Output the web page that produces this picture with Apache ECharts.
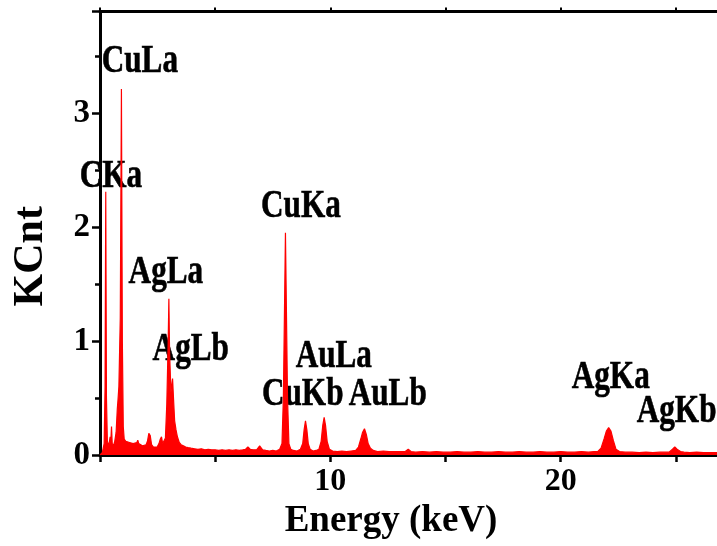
<!DOCTYPE html>
<html>
<head>
<meta charset="utf-8">
<script src="https://cdn.jsdelivr.net/npm/echarts@6/dist/echarts.min.js"></script>
<style>
html,body{margin:0;padding:0;background:#fff;}
#chart{width:717px;height:546px;}
</style>
</head>
<body>
<div id="chart"></div>
<script>
// Energy (keV) of each sample
var energy = [
  0.00,0.10,0.18,0.22,0.25,0.28,0.32,0.38,0.44,0.47,0.50,0.53,0.58,0.64,0.70,0.75,0.78,0.82,0.88,0.93,
  0.97,1.01,1.05,1.12,1.20,1.28,1.36,1.44,1.52,1.60,1.64,1.68,1.76,1.84,1.92,2.00,2.06,2.12,2.18,2.24,
  2.32,2.40,2.48,2.56,2.62,2.67,2.72,2.78,2.84,2.90,2.96,2.99,3.02,3.08,3.12,3.15,3.19,3.24,3.30,3.36,
  3.44,3.52,3.62,3.72,3.82,3.95,4.10,4.25,4.40,4.55,4.70,4.85,5.00,5.15,5.30,5.45,5.60,5.75,5.90,6.05,
  6.20,6.32,6.42,6.52,6.64,6.80,6.93,7.06,7.20,7.35,7.50,7.65,7.80,7.90,7.96,8.01,8.05,8.09,8.14,8.20,
  8.28,8.40,8.55,8.70,8.80,8.86,8.92,8.98,9.04,9.12,9.25,9.38,9.50,9.60,9.67,9.73,9.79,9.86,9.96,10.10,
  10.30,10.50,10.70,10.90,11.10,11.22,11.32,11.40,11.48,11.56,11.64,11.74,11.86,12.05,12.30,12.55,12.80,13.05,13.25,13.38,
  13.50,13.70,14.00,14.30,14.60,14.90,15.20,15.50,15.80,16.10,16.40,16.70,17.00,17.30,17.60,17.90,18.20,18.50,18.80,19.10,
  19.40,19.70,20.00,20.30,20.60,20.90,21.20,21.45,21.60,21.75,21.88,21.98,22.08,22.18,22.28,22.40,22.55,22.80,23.10,23.40,
  23.70,24.00,24.30,24.55,24.70,24.85,24.95,25.05,25.20,25.35,25.60,25.90,26.20,26.50,26.80,27.00
];
// Counts in KCnt
var counts = [
  0.00,0.02,0.10,0.60,2.31,0.50,0.12,0.08,0.16,0.12,0.25,0.10,0.08,0.12,0.20,0.40,0.48,0.60,1.20,3.21,
  1.00,0.25,0.14,0.12,0.13,0.11,0.12,0.10,0.09,0.11,0.13,0.10,0.09,0.08,0.07,0.09,0.12,0.19,0.17,0.09,
  0.07,0.06,0.07,0.10,0.14,0.16,0.10,0.09,0.15,0.45,1.00,1.37,0.90,0.55,0.62,0.67,0.50,0.30,0.22,0.16,
  0.11,0.09,0.08,0.07,0.065,0.06,0.055,0.05,0.055,0.045,0.05,0.045,0.045,0.04,0.045,0.04,0.045,0.04,0.045,0.04,
  0.045,0.05,0.07,0.05,0.045,0.045,0.08,0.045,0.04,0.035,0.04,0.035,0.05,0.10,0.50,1.30,1.95,1.30,0.50,0.10,
  0.05,0.04,0.035,0.05,0.10,0.22,0.30,0.22,0.10,0.05,0.035,0.04,0.05,0.12,0.26,0.33,0.26,0.12,0.05,0.035,
  0.03,0.035,0.03,0.035,0.04,0.07,0.14,0.20,0.23,0.18,0.10,0.06,0.04,0.03,0.035,0.03,0.03,0.03,0.03,0.05,
  0.03,0.025,0.03,0.025,0.03,0.025,0.025,0.03,0.025,0.025,0.03,0.025,0.025,0.03,0.025,0.025,0.03,0.025,0.025,0.03,
  0.025,0.025,0.03,0.025,0.025,0.03,0.025,0.03,0.03,0.06,0.14,0.21,0.24,0.21,0.13,0.05,0.03,0.025,0.025,0.02,
  0.025,0.02,0.025,0.025,0.025,0.05,0.07,0.05,0.03,0.025,0.02,0.025,0.02,0.02,0.02,0.02
];
// Peak annotations: text, anchor energy (keV), anchor height (KCnt)
var peakNames  = ['CuLa','CKa','AgLa','AgLb','CuKa','AuLa','CuKb','AuLb','AgKa','AgKb'];
var peakLabelX = [1.73, 0.47, 2.86, 3.94, 8.72, 10.15, 8.80, 12.49, 22.17, 25.03];
var peakLabelY = [3.45, 2.44, 1.60, 0.92, 2.18, 0.86, 0.53, 0.53, 0.68, 0.38];
// Axis ticks
var xTickLabels = [10, 20];
var yTickLabels = [0, 1, 2, 3];

var serif = 'Liberation Serif, Times New Roman, serif';
var spectrum = energy.map(function (e, i) { return [e, counts[i]]; });

var chart = echarts.init(document.getElementById('chart'));
chart.setOption({
  animation: false,
  backgroundColor: '#fff',
  grid: {left: 100, right: -5, top: 11.5, bottom: 91, outerBoundsMode: 'none', containLabel: false},
  xAxis: [{
    type: 'value', min: 0, max: 27, interval: 5, position: 'bottom',
    name: 'Energy (keV)', nameLocation: 'middle', nameGap: 44,
    nameTextStyle: {fontFamily: serif, fontWeight: 'bold', fontSize: 37, color: '#000', padding: [0, 40, 0, 0]},
    axisLine: {lineStyle: {color: '#000', width: 3}},
    axisTick: {length: 7, lineStyle: {color: '#000', width: 2.5}},
    axisLabel: {fontFamily: serif, fontWeight: 'bold', fontSize: 32, color: '#000', margin: 11,
      formatter: function (v) { return xTickLabels.indexOf(v) >= 0 ? String(v) : ''; }},
    splitLine: {show: false}
  }, {
    type: 'value', min: 0, max: 27, interval: 5, position: 'top',
    axisLine: {lineStyle: {color: '#000', width: 3}},
    axisTick: {length: 4, lineStyle: {color: '#000', width: 2}},
    axisLabel: {show: false}, splitLine: {show: false}
  }],
  yAxis: {
    type: 'value', min: 0, max: 3.89, interval: 1,
    name: 'KCnt', nameLocation: 'middle', nameGap: 48, nameRotate: 90,
    nameTextStyle: {fontFamily: serif, fontWeight: 'bold', fontSize: 42, color: '#000', padding: [0, 46, 0, 0]},
    axisLine: {lineStyle: {color: '#000', width: 3}},
    axisTick: {length: 8, lineStyle: {color: '#000', width: 2.5}},
    minorTick: {show: true, splitNumber: 2, length: 5, lineStyle: {color: '#000', width: 2.5}},
    axisLabel: {fontFamily: serif, fontWeight: 'bold', fontSize: 33, color: '#000', margin: 10,
      formatter: function (v) { return yTickLabels.indexOf(v) >= 0 ? String(v) : ''; }},
    splitLine: {show: false}
  },
  series: [{
    type: 'line', data: spectrum, showSymbol: false, smooth: false,
    lineStyle: {color: '#ff0000', width: 1.2},
    areaStyle: {color: '#ff0000', opacity: 1},
    z: 3
  }]
});

// Peak labels placed through the chart's own axes (condensed bold serif as in the reference)
var texts = peakNames.map(function (n, i) {
  var p = chart.convertToPixel({xAxisIndex: 0, yAxisIndex: 0}, [peakLabelX[i], peakLabelY[i]]);
  return {
    type: 'text', x: p[0], y: p[1], scaleX: 0.78, z: 1,
    style: {text: n, font: 'bold 40px ' + serif, fill: '#000', stroke: '#000', lineWidth: 0.6,
            align: 'center', verticalAlign: 'middle', textAlign: 'center', textVerticalAlign: 'middle'}
  };
});
chart.setOption({graphic: {elements: texts}});
</script>
</body>
</html>
